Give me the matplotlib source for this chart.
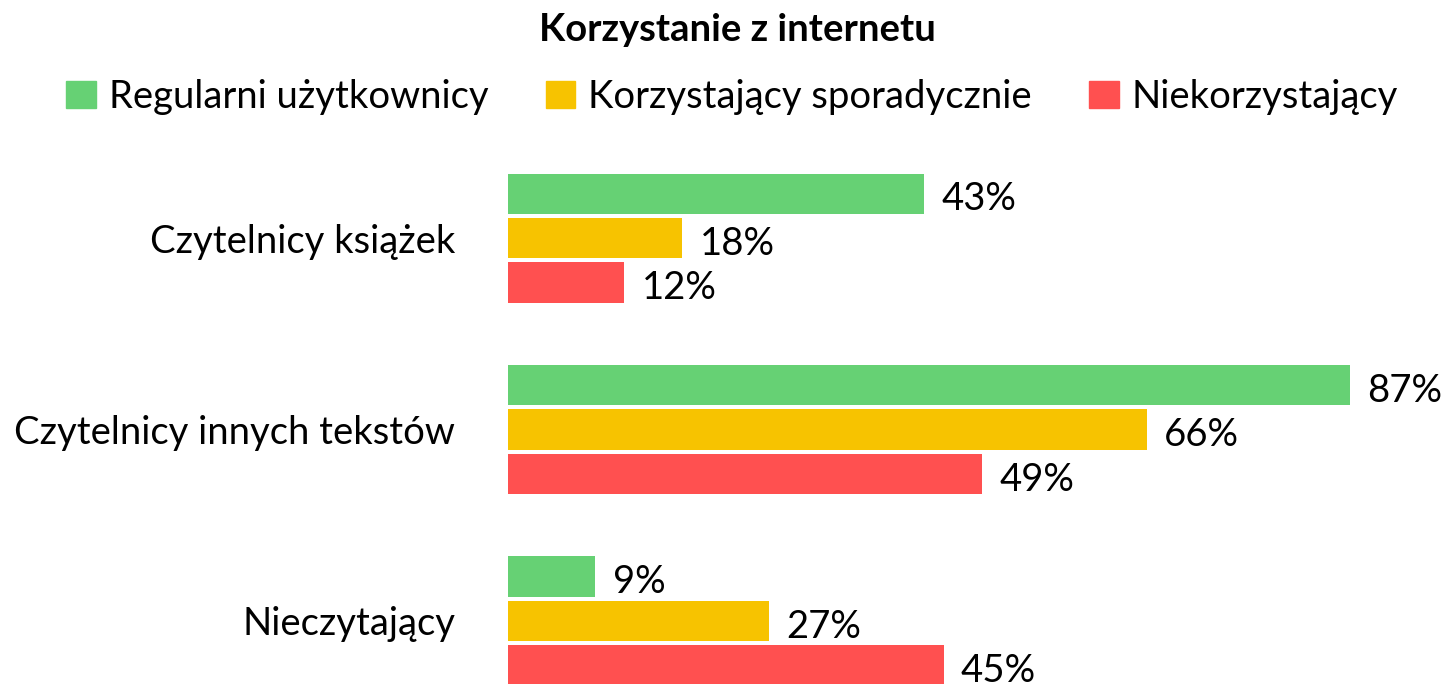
import numpy as np
import matplotlib
matplotlib.use('Agg')
import matplotlib.pyplot as plt
from matplotlib.patches import Patch

plt.rcParams['font.family'] = ['Lato', 'DejaVu Sans']

# ---- data ----
categories = ['Czytelnicy książek', 'Czytelnicy innych tekstów', 'Nieczytający']
series_names = ['Regularni użytkownicy', 'Korzystający sporadycznie', 'Niekorzystający']
regularni = [43, 87, 9]
sporadycznie = [18, 66, 27]
niekorzystajacy = [12, 49, 45]
title = 'Korzystanie z internetu'

COLORS = ['#66D174', '#F7C300', '#FF5050']
FS = 27.5

fig = plt.figure(figsize=(14.41, 6.84), dpi=100)
ax = fig.add_axes([508 / 1441, 0, 1 - 508 / 1441, (684 - 150) / 684])

y = np.arange(len(categories))
step = 0.232
bh = 0.21
for i, (vals, col) in enumerate(zip([regularni, sporadycznie, niekorzystajacy], COLORS)):
    pos = y + (i - 1) * step
    ax.barh(pos, vals, height=bh, color=col, edgecolor='none')
    for p, v in zip(pos, vals):
        ax.text(v + 1.8, p + 0.03, f'{v}%', va='center', ha='left', fontsize=FS)

ax.set_xlim(0, 96.4)
ax.set_ylim(2.33, -0.46)
ax.set_yticks(y)
ax.set_yticklabels(categories, fontsize=FS)
ax.tick_params(axis='y', length=0, pad=38)
ax.set_xticks([])
for s in ax.spines.values():
    s.set_visible(False)

fig.text(0.512, 1 - 30 / 684, title, ha='center', va='center', fontsize=27.5, fontweight='bold')

handles = [Patch(color=c) for c in COLORS]
fig.legend(handles, series_names, loc='center', bbox_to_anchor=(0.508, 1 - 97 / 684),
           ncol=3, frameon=False, fontsize=FS, handlelength=0.78, handleheight=0.72,
           handletextpad=0.33, columnspacing=1.5, borderpad=0, borderaxespad=0)

fig.savefig('out.png', dpi=100)
